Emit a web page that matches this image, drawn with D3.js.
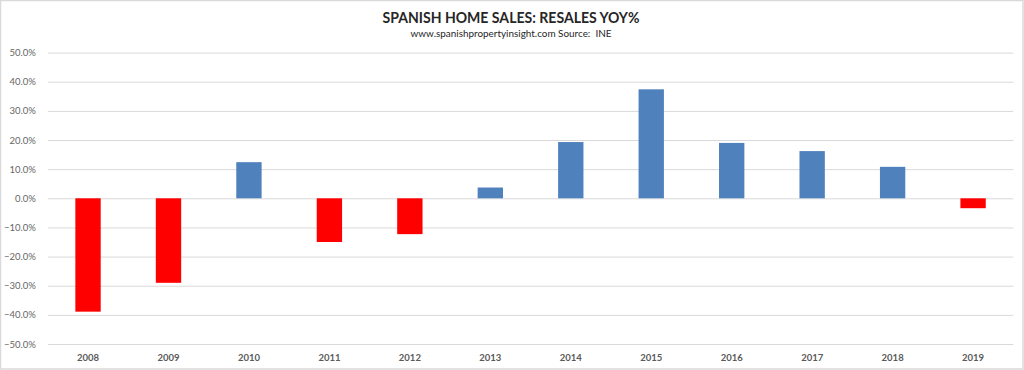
<!DOCTYPE html>
<html><head><meta charset="utf-8">
<script src="https://cdn.jsdelivr.net/npm/d3@7"></script>
<style>html,body{margin:0;padding:0;background:#fff;}svg{display:block;}text{white-space:pre;}</style>
</head><body>
<script>
const years = ["2008","2009","2010","2011","2012","2013","2014","2015","2016","2017","2018","2019"];
const resalesYoY = [-38.9, -29.0, 12.4, -15.0, -12.3, 3.7, 19.3, 37.4, 19.0, 16.2, 10.8, -3.4];
const yTicks = [50, 40, 30, 20, 10, 0, -10, -20, -30, -40, -50];
const titleText = "SPANISH HOME SALES: RESALES YOY%";
const subtitleText = "www.spanishpropertyinsight.com Source:  INE";

const W = 1024, H = 370;
const m = {left: 47.8, right: 1013.3, top: 52.6, bottom: 344};
const svg = d3.select("body").append("svg").attr("width", W).attr("height", H);

svg.append("rect").attr("x", 0.5).attr("y", 0.5).attr("width", W - 1.5).attr("height", H - 1.5)
  .attr("fill", "#fff").attr("stroke", "#d9d9d9").attr("stroke-width", 1.5);

const x = d3.scaleBand().domain(years).range([m.left, m.right]).paddingInner(0.685).paddingOuter(0.3425);
const y = d3.scaleLinear().domain([-50, 50]).range([m.bottom, m.top]);

const font = "Lato, 'Open Sans', sans-serif";

// gridlines
const yAxis = d3.axisLeft(y).tickValues(yTicks).tickSize(-(m.right - m.left)).tickPadding(12)
  .tickFormat(d => d3.format(".1f")(d) + "%");
const gy = svg.append("g").attr("transform", `translate(${m.left},0)`).call(yAxis);
gy.select(".domain").remove();
gy.selectAll(".tick line").attr("stroke", "#d9d9d9").attr("stroke-width", 1);
gy.selectAll(".tick text").attr("fill", "#666666").attr("font-family", font).attr("font-size", 9.5);

// bars
svg.append("g").selectAll("rect").data(years).join("rect")
  .attr("x", d => x(d))
  .attr("width", x.bandwidth())
  .attr("y", (d, i) => y(Math.max(0, resalesYoY[i])))
  .attr("height", (d, i) => Math.abs(y(resalesYoY[i]) - y(0)))
  .attr("fill", (d, i) => resalesYoY[i] < 0 ? "#ff0000" : "#4f81bd");

// x axis labels
const xAxis = d3.axisBottom(x).tickSize(0).tickPadding(10);
const gx = svg.append("g").attr("transform", `translate(0,${m.bottom})`).call(xAxis);
gx.select(".domain").remove();
gx.selectAll(".tick text").attr("fill", "#595959").attr("font-family", font)
  .attr("font-size", 9.5).attr("font-weight", "bold");

// titles
svg.append("text").attr("x", 511).attr("y", 23).attr("text-anchor", "middle")
  .attr("font-family", font).attr("font-weight", "bold").attr("font-size", 14.5).attr("fill", "#262626")
  .attr("textLength", 257).attr("lengthAdjust", "spacingAndGlyphs").text(titleText);
svg.append("text").attr("x", 511).attr("y", 37).attr("text-anchor", "middle")
  .attr("font-family", font).attr("font-size", 10).attr("fill", "#262626")
  .attr("textLength", 201).attr("lengthAdjust", "spacingAndGlyphs").text(subtitleText);
</script>
</body></html>
